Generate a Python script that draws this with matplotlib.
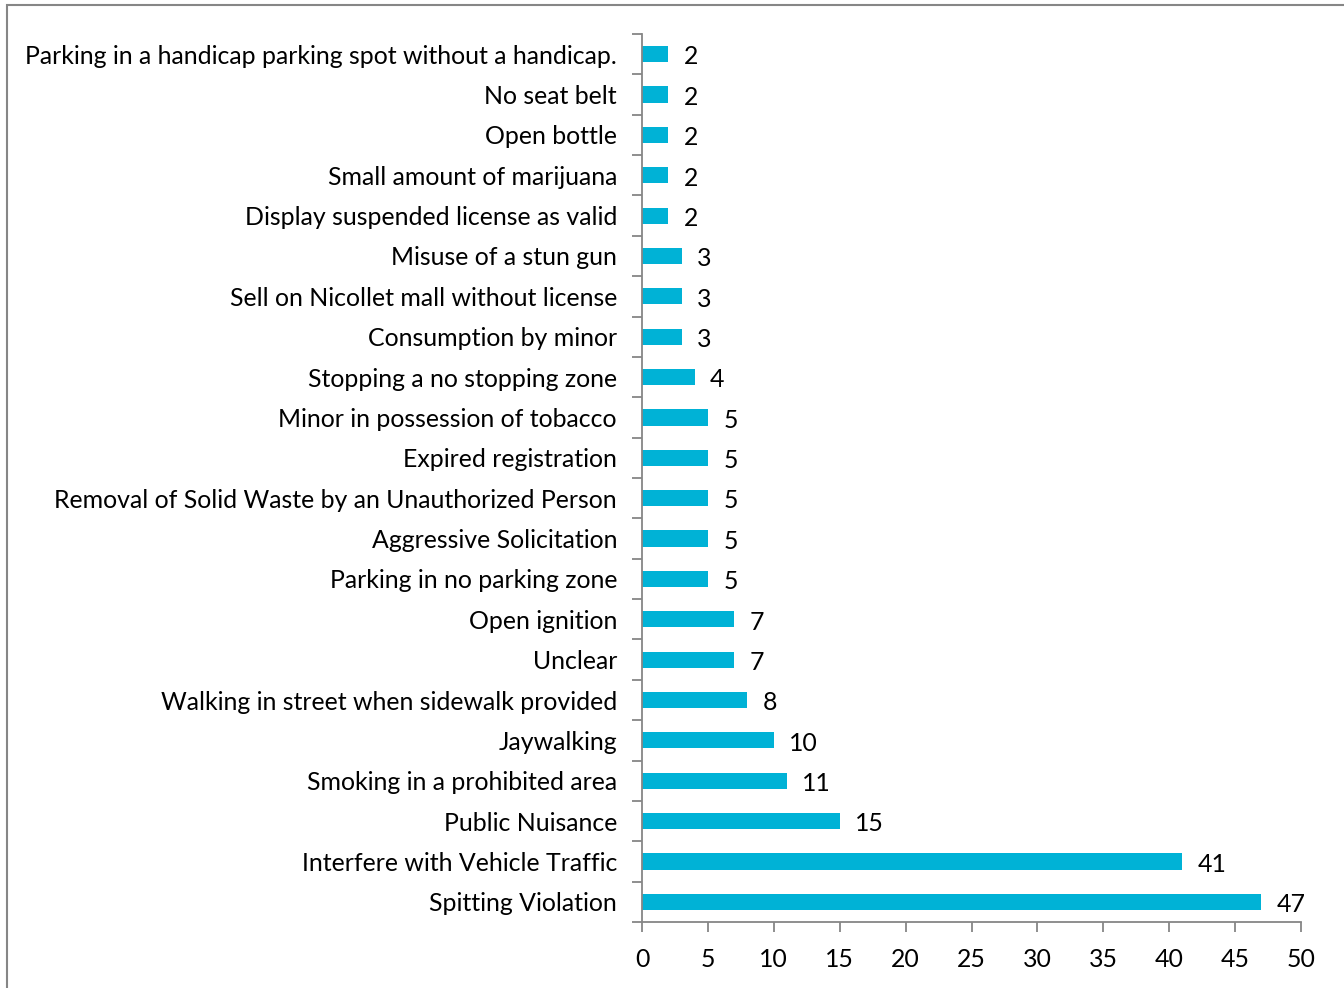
import matplotlib.pyplot as plt
from matplotlib.patches import Rectangle
import numpy as np

violations = [
    'Parking in a handicap parking spot without a handicap.',
    'No seat belt',
    'Open bottle',
    'Small amount of marijuana',
    'Display suspended license as valid',
    'Misuse of a stun gun',
    'Sell on Nicollet mall without license',
    'Consumption by minor',
    'Stopping a no stopping zone',
    'Minor in possession of tobacco',
    'Expired registration',
    'Removal of Solid Waste by an Unauthorized Person',
    'Aggressive Solicitation',
    'Parking in no parking zone',
    'Open ignition',
    'Unclear',
    'Walking in street when sidewalk provided',
    'Jaywalking',
    'Smoking in a prohibited area',
    'Public Nuisance',
    'Interfere with Vehicle Traffic',
    'Spitting Violation',
]
counts = [2, 2, 2, 2, 2, 3, 3, 3, 4, 5, 5, 5, 5, 5, 7, 7, 8, 10, 11, 15, 41, 47]
x_ticks = list(range(0, 51, 5))

plt.rcParams['font.family'] = ['Lato', 'DejaVu Sans']
fs = 17.9
bar_color = '#00b2d6'
grey = '#868686'

fig = plt.figure(figsize=(13.44, 9.88), dpi=100)
# chart area frame (runs off the right and bottom edges)
fig.patches.append(Rectangle((7 / 1344, -0.05), 1.1, (988 - 5) / 988 + 0.05,
                             transform=fig.transFigure, fill=False,
                             edgecolor=grey, linewidth=1.5))

ax = fig.add_axes([642 / 1344, 1 - 922 / 988, (1301 - 642) / 1344, (922 - 34) / 988])
y = np.arange(len(violations))
ax.barh(y, counts, height=0.4, color=bar_color, zorder=2)

for yi, c in zip(y, counts):
    ax.annotate(str(c), (c, yi), xytext=(11, -2), textcoords='offset points',
                va='center', ha='left', fontsize=fs)

ax.set_xlim(0, 50)
ax.set_ylim(len(violations) - 0.5, -0.5)
ax.set_xticks(x_ticks)
ax.set_yticks(y)
ax.set_yticklabels(violations)
ax.set_yticks(np.arange(-0.5, len(violations)), minor=True)
ax.tick_params(axis='y', which='major', length=0, pad=18, labelsize=fs)
ax.tick_params(axis='y', which='minor', length=7, color=grey, width=1.3)
ax.tick_params(axis='x', length=7, color=grey, width=1.3, pad=12, labelsize=fs)

for s in ['top', 'right']:
    ax.spines[s].set_visible(False)
for s in ['left', 'bottom']:
    ax.spines[s].set_color(grey)
    ax.spines[s].set_linewidth(1.3)

fig.savefig('out.png', dpi=100)
